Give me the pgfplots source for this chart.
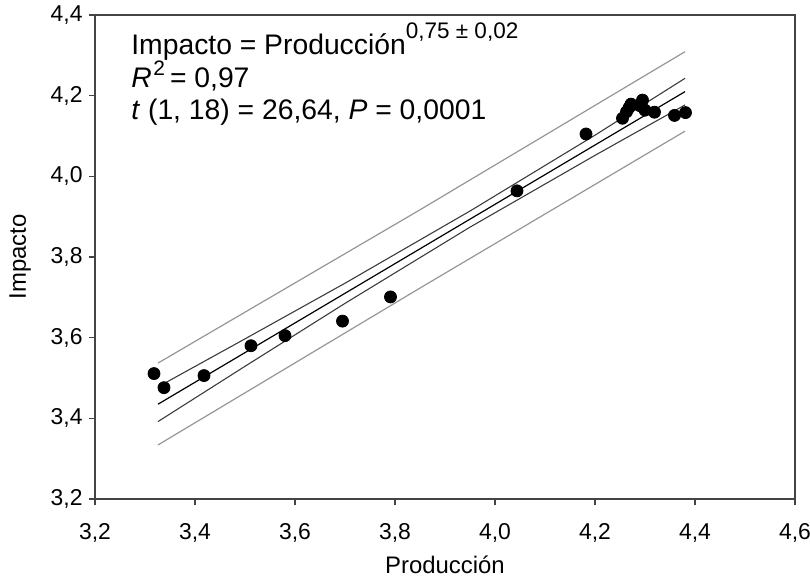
\documentclass[border=0pt]{standalone}
\usepackage{fontspec}
\setmainfont{Liberation Sans}
\usepackage{pgfplots}
\pgfplotsset{compat=1.18}
\definecolor{axisgray}{RGB}{68,68,68}
\definecolor{bandgray}{RGB}{150,150,150}
\definecolor{cigray}{RGB}{60,60,60}

\begin{document}
\begin{tikzpicture}
\begin{axis}[
    scale only axis, width=350bp, height=242bp,
    xmin=3.2, xmax=4.6, ymin=3.2, ymax=4.4,
    xtick={3.2,3.4,3.6,3.8,4.0,4.2,4.4,4.6},
    ytick={3.2,3.4,3.6,3.8,4.0,4.2,4.4},
    xtick pos=left, ytick pos=left,
    tick align=outside, major tick length=3bp,
    axis line style={axisgray, line width=0.8bp},
    every tick/.style={axisgray, line width=0.8bp},
    /pgf/number format/.cd, fixed, fixed zerofill, precision=1, use comma, assume math mode=true,
    /pgfplots/.cd,
    tick label style={font=\fontsize{11.5}{13}\selectfont, inner sep=0pt},
    xticklabel style={anchor=north, yshift=-9bp},
    yticklabel style={anchor=east, xshift=-3bp},
    xlabel={Producción},
    ylabel={Impacto},
    every axis x label/.style={at={(axis description cs:0.5,-0.136)}, anchor=center,
      font=\fontsize{12}{14}\selectfont},
    every axis y label/.style={at={(axis description cs:-0.107,0.5)}, anchor=center, rotate=90,
      font=\fontsize{12}{14}\selectfont},
    clip=false,
]
% prediction bands
\addplot[bandgray, line width=0.6bp] coordinates {(3.326,3.537) (3.85,3.917) (4.38,4.309)};
\addplot[bandgray, line width=0.6bp] coordinates {(3.326,3.334) (3.85,3.723) (4.38,4.112)};
% confidence bands
\addplot[cigray, line width=0.55bp] coordinates {
  (3.326,3.478) (3.5,3.597) (3.7,3.735) (3.95,3.914) (4.2,4.102) (4.38,4.243)};
\addplot[cigray, line width=0.55bp] coordinates {
  (3.326,3.392) (3.5,3.529) (3.7,3.685) (3.95,3.874) (4.2,4.052) (4.38,4.177)};
% regression line
\addplot[black, line width=0.6bp] coordinates {(3.326,3.435) (4.38,4.210)};
% observations
\addplot[only marks, mark=*, mark size=3bp, black] coordinates {
  (3.318,3.511) (3.338,3.476) (3.418,3.506) (3.512,3.580) (3.580,3.605)
  (3.695,3.641) (3.791,3.701) (4.044,3.964) (4.182,4.105) (4.255,4.144)
  (4.263,4.160) (4.272,4.179) (4.268,4.170) (4.295,4.189) (4.300,4.164)
  (4.290,4.175) (4.319,4.159) (4.359,4.151) (4.381,4.158)
};
\node[anchor=base west, font=\fontsize{14.2}{16}\selectfont, inner sep=0pt]
  at (rel axis cs:0.0514,0.9174)
  {Impacto = Producción\raisebox{8bp}{\fontsize{11.3}{12}\selectfont 0,75 ± 0,02}};
\node[anchor=base west, font=\fontsize{14.2}{16}\selectfont, inner sep=0pt]
  at (rel axis cs:0.0514,0.8512)
  {\textit{R}\kern0.8bp\raisebox{5.6bp}{\fontsize{10.5}{12}\selectfont 2}\kern2.5bp= 0,97};
\node[anchor=base west, font=\fontsize{14.2}{16}\selectfont, inner sep=0pt]
  at (rel axis cs:0.0514,0.7831)
  {\textit{t} (1, 18) = 26,64, \textit{P} = 0,0001};
\end{axis}
\pgfresetboundingbox
\path[use as bounding box] (current axis.south west) ++(-47.5bp,-39.5bp) rectangle ++(405bp,289bp);
\end{tikzpicture}
\end{document}
